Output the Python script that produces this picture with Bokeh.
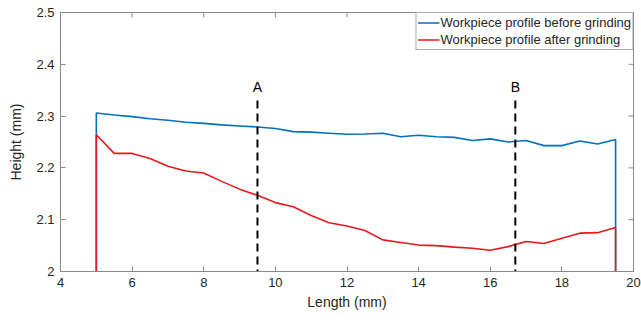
import math
from bokeh.plotting import figure
from bokeh.models import ColumnDataSource, Legend, LegendItem, FixedTicker
from bokeh.core.properties import value
from bokeh.embed import file_html
from bokeh.resources import INLINE

# ---- data ----
length_mm = [5.0, 5.0, 5.5, 6.0, 6.5, 7.0, 7.5, 8.0, 8.5, 9.0, 9.5, 10.0, 10.5, 11.0, 11.5, 12.0,
             12.5, 13.0, 13.5, 14.0, 14.5, 15.0, 15.5, 16.0, 16.5, 17.0, 17.5, 18.0, 18.5, 19.0,
             19.5, 19.5]
height_before = [2.0, 2.306, 2.302, 2.299, 2.295, 2.292, 2.288, 2.286, 2.283, 2.281, 2.279, 2.276,
                 2.270, 2.269, 2.267, 2.265, 2.2655, 2.267, 2.260, 2.263, 2.260, 2.259, 2.253,
                 2.256, 2.250, 2.253, 2.243, 2.243, 2.252, 2.246, 2.255, 2.0]
height_after = [2.0, 2.264, 2.228, 2.228, 2.218, 2.203, 2.194, 2.190, 2.174, 2.159, 2.147, 2.133,
                2.125, 2.108, 2.094, 2.088, 2.079, 2.061, 2.056, 2.051, 2.050, 2.047, 2.045,
                2.041, 2.048, 2.058, 2.054, 2.064, 2.074, 2.075, 2.085, 2.0]
marker_x = [9.5, 16.7]
marker_y0 = [2.0, 2.0]
marker_y1 = [2.33, 2.33]
marker_label_y = [2.357, 2.357]
marker_labels = ["A", "B"]
x_ticks = [4, 6, 8, 10, 12, 14, 16, 18, 20]
y_ticks = [2.0, 2.1, 2.2, 2.3, 2.4, 2.5]
y_tick_labels = {2.0: "2", 2.1: "2.1", 2.2: "2.2", 2.3: "2.3", 2.4: "2.4", 2.5: "2.5"}
x_min, x_max = 4, 20
y_min, y_max = 2.0, 2.5

FONT = "Liberation Sans"
AXIS_COLOR = "#8a8a8a"
TEXT_COLOR = "#262626"

p = figure(width=641, height=320, x_range=(x_min, x_max), y_range=(y_min, y_max),
           output_backend="svg", toolbar_location=None,
           min_border_left=60, min_border_right=8, min_border_top=12, min_border_bottom=49)
p.xgrid.visible = False
p.ygrid.visible = False
p.outline_line_color = AXIS_COLOR
p.background_fill_color = "white"
p.border_fill_color = "white"

for ax in (p.xaxis[0], p.yaxis[0]):
    ax.axis_line_color = AXIS_COLOR
    ax.major_tick_line_color = AXIS_COLOR
    ax.major_tick_in = 5
    ax.major_tick_out = 0
    ax.minor_tick_line_color = None
    ax.major_label_text_font = FONT
    ax.major_label_text_font_size = "13px"
    ax.major_label_text_color = TEXT_COLOR
    ax.axis_label_text_font = FONT
    ax.axis_label_text_font_size = "14px"
    ax.axis_label_text_font_style = "normal"
    ax.axis_label_text_color = TEXT_COLOR

p.xaxis[0].ticker = FixedTicker(ticks=x_ticks)
p.yaxis[0].ticker = FixedTicker(ticks=y_ticks)
p.yaxis[0].major_label_overrides = y_tick_labels
p.xaxis[0].axis_label = "Length (mm)"
p.yaxis[0].axis_label = "Height (mm)"
p.xaxis[0].major_label_standoff = 6
p.yaxis[0].major_label_standoff = 6
p.xaxis[0].axis_label_standoff = 4
p.yaxis[0].axis_label_standoff = 9

# mirrored inward ticks on top and right frame edges (half of each dash is clipped away)
tsrc = ColumnDataSource(dict(x=x_ticks, y=[y_max] * len(x_ticks)))
p.scatter("x", "y", source=tsrc, marker="dash", size=10, angle=math.pi / 2,
          line_color=AXIS_COLOR, line_width=1)
rsrc = ColumnDataSource(dict(x=[x_max] * len(y_ticks), y=y_ticks))
p.scatter("x", "y", source=rsrc, marker="dash", size=10,
          line_color=AXIS_COLOR, line_width=1)

src = ColumnDataSource(dict(x=length_mm, before=height_before, after=height_after))
r_before = p.line("x", "before", source=src, line_color="#0072BD", line_width=1.6)
r_after = p.line("x", "after", source=src, line_color="#e3191c", line_width=1.6)

msrc = ColumnDataSource(dict(x=marker_x, y0=marker_y0, y1=marker_y1, ly=marker_label_y, t=marker_labels))
p.segment(x0="x", y0="y1", x1="x", y1="y0", source=msrc, line_color="black",
          line_width=2, line_dash="8 5")
p.text(x="x", y="ly", text="t", source=msrc, text_align="center", text_baseline="middle",
       text_font=value(FONT), text_font_size="14px", text_color="black")

legend = Legend(items=[LegendItem(label="Workpiece profile before grinding", renderers=[r_before]),
                       LegendItem(label="Workpiece profile after grinding", renderers=[r_after])],
                location="top_right", margin=0, padding=1, spacing=0,
                label_text_font=FONT, label_text_font_size="13px", label_text_color=TEXT_COLOR,
                label_standoff=1, glyph_width=22, glyph_height=17, label_height=17,
                border_line_color="#555555", border_line_width=1,
                background_fill_color="white", background_fill_alpha=1)
p.add_layout(legend, "center")

open("out.html", "w").write(file_html(p, INLINE))
